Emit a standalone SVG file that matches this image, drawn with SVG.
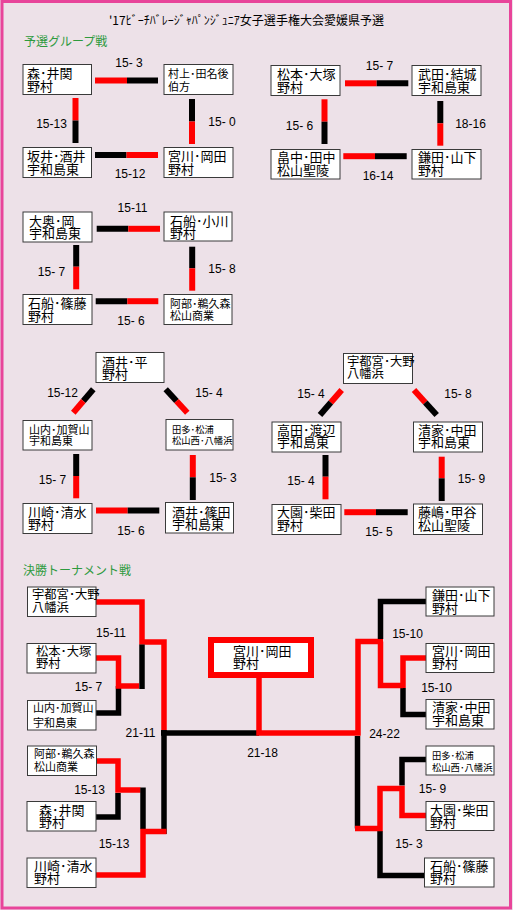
<svg xmlns="http://www.w3.org/2000/svg" width="513" height="910" viewBox="0 0 513 910">
<style>
.bx{fill:#fff;stroke:#3a3a3a;stroke-width:1}
.t{font-family:"Noto Sans CJK JP","Noto Sans CJK SC",sans-serif;font-size:13px;fill:#000}
.s{font-size:11px}
.m{font-size:12.3px}
.xs{font-size:9.3px}
.sc{font-family:"Liberation Sans",Arial,sans-serif;font-size:12px;fill:#000;text-anchor:middle}
.hd{font-family:"Noto Sans CJK JP","Noto Sans CJK SC",sans-serif;font-size:12px;fill:#2e9a3e}
.ttl{font-family:"Noto Sans CJK JP","Noto Sans CJK SC",sans-serif;font-size:12px;fill:#000}
.r{stroke:#ff0000;stroke-width:6;fill:none;stroke-linejoin:miter}
.k{stroke:#000;stroke-width:6;fill:none;stroke-linejoin:miter}
.tr{stroke-width:5.5}
</style>
<rect x="0" y="0" width="513" height="910" fill="#ede1e8"/>
<rect x="2" y="1.5" width="508.5" height="906.5" fill="none" stroke="#e8449a" stroke-width="3"/>
<text class="ttl" x="109" y="25" textLength="275" lengthAdjust="spacing">'17ﾋﾞｰﾁﾊﾞﾚｰｼﾞｬﾊﾟﾝｼﾞｭﾆｱ女子選手権大会愛媛県予選</text>
<text class="hd" x="24" y="46">予選グループ戦</text>
<text class="hd" x="23" y="575">決勝トーナメント戦</text>

<g id="connectors">
<line class="r" x1="95" y1="80.5" x2="127" y2="80.5"/><line class="k" x1="127" y1="80.5" x2="158" y2="80.5"/>
<line class="r" x1="75.5" y1="98" x2="75.5" y2="120.5"/><line class="k" x1="75.5" y1="120.5" x2="75.5" y2="143"/>
<line class="k" x1="192" y1="99" x2="192" y2="121.5"/><line class="r" x1="192" y1="121.5" x2="192" y2="144"/>
<line class="k" x1="95" y1="155" x2="126.5" y2="155"/><line class="r" x1="126.5" y1="155" x2="158" y2="155"/>
<line class="r" x1="345" y1="83.3" x2="376.7" y2="83.3"/><line class="k" x1="376.7" y1="83.3" x2="408.3" y2="83.3"/>
<line class="r" x1="324.5" y1="99.3" x2="324.5" y2="121.7"/><line class="k" x1="324.5" y1="121.7" x2="324.5" y2="144"/>
<line class="k" x1="440.3" y1="101" x2="440.3" y2="123.3"/><line class="r" x1="440.3" y1="123.3" x2="440.3" y2="145.7"/>
<line class="r" x1="343.3" y1="156.2" x2="375" y2="156.2"/><line class="k" x1="375" y1="156.2" x2="406.7" y2="156.2"/>
<line class="k" x1="96.7" y1="228.8" x2="128.3" y2="228.8"/><line class="r" x1="128.3" y1="228.8" x2="160" y2="228.8"/>
<line class="k" x1="76.2" y1="245" x2="76.2" y2="266.7"/><line class="r" x1="76.2" y1="266.7" x2="76.2" y2="289.3"/>
<line class="k" x1="192.2" y1="246.7" x2="192.2" y2="268.3"/><line class="r" x1="192.2" y1="268.3" x2="192.2" y2="290.7"/>
<line class="k" x1="95.7" y1="301.2" x2="127.3" y2="301.2"/><line class="r" x1="127.3" y1="301.2" x2="158.3" y2="301.2"/>
<line class="k" x1="93.3" y1="389.3" x2="83.3" y2="401"/><line class="r" x1="83.3" y1="401" x2="73.3" y2="412.7"/>
<line class="k" x1="165.7" y1="389.3" x2="176.5" y2="401"/><line class="r" x1="176.5" y1="401" x2="187.3" y2="412.7"/>
<line class="k" x1="76.2" y1="454" x2="76.2" y2="476"/><line class="r" x1="76.2" y1="476" x2="76.2" y2="498.3"/>
<line class="r" x1="192.8" y1="455" x2="192.8" y2="477.3"/><line class="k" x1="192.8" y1="477.3" x2="192.8" y2="500"/>
<line class="r" x1="96" y1="510.5" x2="127.7" y2="510.5"/><line class="k" x1="127.7" y1="510.5" x2="159.3" y2="510.5"/>
<line class="r" x1="341.7" y1="390" x2="330.8" y2="402.5"/><line class="k" x1="330.8" y1="402.5" x2="320" y2="415"/>
<line class="r" x1="414" y1="390" x2="425.3" y2="402.5"/><line class="k" x1="425.3" y1="402.5" x2="436.7" y2="415"/>
<line class="k" x1="325.5" y1="455" x2="325.5" y2="476.7"/><line class="r" x1="325.5" y1="476.7" x2="325.5" y2="499.3"/>
<line class="r" x1="441.7" y1="456.7" x2="441.7" y2="478.3"/><line class="k" x1="441.7" y1="478.3" x2="441.7" y2="501"/>
<line class="r" x1="344.3" y1="512.2" x2="376" y2="512.2"/><line class="k" x1="376" y1="512.2" x2="407.7" y2="512.2"/>
<path class="k tr" d="M96,713 H118.5 V686"/>
<path class="r tr" d="M96,602 H142 V642 H164 V733"/>
<path class="r tr" d="M96,658 H118.5 V686 H139"/>
<path class="k tr" d="M142,644.5 V689"/>
<path class="k tr" d="M96,817 H118 V793"/>
<path class="r tr" d="M97,761 H118 V790 H140.5"/>
<path class="k tr" d="M143,787.5 V829"/>
<path class="k tr" d="M161,733 H259"/>
<path class="k tr" d="M164,730 V834"/>
<path class="r tr" d="M96,875 H143 V831.5 H166.5"/>
<path class="r tr" d="M259,678 V733 H358 V641.5 H383"/>
<path class="k tr" d="M426,601.5 H380.5 V639"/>
<path class="k tr" d="M426,714.5 H403 V688"/>
<path class="r tr" d="M380.5,641.5 V685.5 H403"/>
<path class="r tr" d="M426,658 H403 V688"/>
<path class="k tr" d="M357.5,736 V828.5"/>
<path class="k tr" d="M426,759.5 H402 V785.5"/>
<path class="k tr" d="M380,831 V875.5 H425"/>
<path class="r tr" d="M355,828.5 H380 V788.5 H402 V815.5 H426"/>
</g>

<g id="scores" xml:space="preserve">
<text class="sc" x="129" y="67">15- 3</text>
<text class="sc" x="51.5" y="128">15-13</text>
<text class="sc" x="222" y="126">15- 0</text>
<text class="sc" x="130" y="178">15-12</text>
<text class="sc" x="379.5" y="69.5">15- 7</text>
<text class="sc" x="299.5" y="129.5">15- 6</text>
<text class="sc" x="470.5" y="127.5">18-16</text>
<text class="sc" x="378" y="179.5">16-14</text>
<text class="sc" x="132.5" y="211.5">15-11</text>
<text class="sc" x="51.5" y="275.5">15- 7</text>
<text class="sc" x="222" y="273">15- 8</text>
<text class="sc" x="131" y="325">15- 6</text>
<text class="sc" x="62.5" y="397">15-12</text>
<text class="sc" x="209" y="397">15- 4</text>
<text class="sc" x="52.5" y="483.5">15- 7</text>
<text class="sc" x="223" y="482">15- 3</text>
<text class="sc" x="131" y="534.5">15- 6</text>
<text class="sc" x="311" y="398">15- 4</text>
<text class="sc" x="458" y="398">15- 8</text>
<text class="sc" x="301" y="485">15- 4</text>
<text class="sc" x="471.5" y="482.5">15- 9</text>
<text class="sc" x="379" y="536">15- 5</text>
<text class="sc" x="111" y="636.5">15-11</text>
<text class="sc" x="88.5" y="690.5">15- 7</text>
<text class="sc" x="140.5" y="736.5">21-11</text>
<text class="sc" x="89.5" y="794">15-13</text>
<text class="sc" x="114" y="848">15-13</text>
<text class="sc" x="262.5" y="757">21-18</text>
<text class="sc" x="407.5" y="638">15-10</text>
<text class="sc" x="436.5" y="692">15-10</text>
<text class="sc" x="384.5" y="738">24-22</text>
<text class="sc" x="432.5" y="793">15- 9</text>
<text class="sc" x="409" y="848">15- 3</text>
</g>

<g id="g1-mori"><rect class="bx" x="23" y="64.5" width="68.5" height="30"/><text class="t" x="27" y="78">森･井関<tspan x="27" dy="13">野村</tspan></text></g>
<g id="g1-murakami"><rect class="bx" x="164" y="64.5" width="69" height="30"/><text class="t s" x="168" y="77.5">村上･田名後<tspan x="168" dy="13">伯方</tspan></text></g>
<g id="g1-sakai"><rect class="bx" x="23" y="147.5" width="68.5" height="30"/><text class="t" x="27" y="161">坂井･酒井<tspan x="27" dy="13">宇和島東</tspan></text></g>
<g id="g1-miyagawa"><rect class="bx" x="164" y="147.5" width="69" height="30"/><text class="t" x="168" y="161">宮川･岡田<tspan x="168" dy="13">野村</tspan></text></g>
<g id="g2-matsumoto"><rect class="bx" x="271" y="65.5" width="69" height="30"/><text class="t" x="277" y="79">松本･大塚<tspan x="277" dy="13">野村</tspan></text></g>
<g id="g2-takeda"><rect class="bx" x="412" y="65.5" width="69" height="30"/><text class="t" x="418" y="79">武田･結城<tspan x="418" dy="13">宇和島東</tspan></text></g>
<g id="g2-hatanaka"><rect class="bx" x="271" y="149.5" width="69" height="29.5"/><text class="t" x="277" y="161.5">畠中･田中<tspan x="277" dy="13.5">松山聖陵</tspan></text></g>
<g id="g2-kamada"><rect class="bx" x="412" y="149.5" width="69" height="29.5"/><text class="t" x="418" y="161.5">鎌田･山下<tspan x="418" dy="13.5">野村</tspan></text></g>
<g id="g3-ooku"><rect class="bx" x="23" y="212" width="69" height="30"/><text class="t" x="29" y="225.5">大奥･岡<tspan x="29" dy="12.5">宇和島東</tspan></text></g>
<g id="g3-ishifune-ogawa"><rect class="bx" x="164" y="212" width="68" height="29"/><text class="t" x="170" y="225.5">石船･小川<tspan x="170" dy="12">野村</tspan></text></g>
<g id="g3-ishifune-shinofuji"><rect class="bx" x="23" y="294.5" width="69" height="30"/><text class="t" x="28" y="308">石船･篠藤<tspan x="28" dy="12.5">野村</tspan></text></g>
<g id="g3-abe"><rect class="bx" x="164" y="294.5" width="68" height="30"/><text class="t s" x="170" y="307.5">阿部･鵜久森<tspan x="170" dy="12">松山商業</tspan></text></g>
<g id="g4-sakai-taira"><rect class="bx" x="96" y="352.5" width="68" height="30"/><text class="t" x="102" y="366.5">酒井･平<tspan x="102" dy="12">野村</tspan></text></g>
<g id="g4-yamauchi"><rect class="bx" x="23" y="420.5" width="69" height="29.5"/><text class="t s" x="29" y="433.5">山内･加賀山<tspan x="29" dy="11.5">宇和島東</tspan></text></g>
<g id="g4-tada"><rect class="bx" x="166" y="419.5" width="67" height="30.5"/><text class="t xs" x="172" y="432.5">田多･松浦<tspan x="172" dy="11.5">松山西･八幡浜</tspan></text></g>
<g id="g4-kawasaki"><rect class="bx" x="23" y="503.5" width="69" height="30"/><text class="t" x="28" y="517">川崎･清水<tspan x="28" dy="12">野村</tspan></text></g>
<g id="g4-sakai-shinoda"><rect class="bx" x="165.5" y="502.5" width="68" height="30.5"/><text class="t" x="172" y="517">酒井･篠田<tspan x="172" dy="12">宇和島東</tspan></text></g>
<g id="g5-utsunomiya"><rect class="bx" x="343.5" y="353.5" width="69" height="30"/><text class="t m" x="347" y="366">宇都宮･大野<tspan x="347" dy="12">八幡浜</tspan></text></g>
<g id="g5-takada"><rect class="bx" x="272" y="422" width="69" height="30"/><text class="t" x="277" y="434.5">高田･渡辺<tspan x="277" dy="12.5">宇和島東</tspan></text></g>
<g id="g5-seike"><rect class="bx" x="413.5" y="422" width="69" height="30"/><text class="t" x="418" y="434.5">清家･中田<tspan x="418" dy="12.5">宇和島東</tspan></text></g>
<g id="g5-oozono"><rect class="bx" x="272" y="504.5" width="69" height="30"/><text class="t" x="277" y="517">大園･柴田<tspan x="277" dy="12.5">野村</tspan></text></g>
<g id="g5-fujishima"><rect class="bx" x="413.5" y="504" width="69" height="30.5"/><text class="t" x="418" y="517">藤嶋･甲谷<tspan x="418" dy="12.5">松山聖陵</tspan></text></g>
<g id="t-utsunomiya"><rect class="bx" x="27.5" y="587" width="68.5" height="29.5"/><text class="t m" x="32" y="598.5">宇都宮･大野<tspan x="32" dy="13">八幡浜</tspan></text></g>
<g id="t-matsumoto"><rect class="bx" x="27" y="643.5" width="69" height="29.5"/><text class="t m" x="36" y="656">松本･大塚<tspan x="36" dy="12">野村</tspan></text></g>
<g id="t-yamauchi"><rect class="bx" x="27.5" y="700.5" width="68.5" height="29.5"/><text class="t s" x="33" y="712">山内･加賀山<tspan x="33" dy="14.5">宇和島東</tspan></text></g>
<g id="t-abe"><rect class="bx" x="27.5" y="746" width="69" height="29.5"/><text class="t s" x="34" y="758">阿部･鵜久森<tspan x="34" dy="12.5">松山商業</tspan></text></g>
<g id="t-mori"><rect class="bx" x="27" y="801.5" width="69" height="29.5"/><text class="t" x="39" y="814.5">森･井関<tspan x="39" dy="12">野村</tspan></text></g>
<g id="t-kawasaki"><rect class="bx" x="27" y="858" width="69" height="29.5"/><text class="t" x="34" y="871">川崎･清水<tspan x="34" dy="12">野村</tspan></text></g>
<g id="t-champion"><rect x="211" y="640" width="100" height="35" fill="#fff" stroke="#ff0000" stroke-width="6"/><text class="t" x="233" y="656">宮川･岡田<tspan x="233" dy="12">野村</tspan></text></g>
<g id="t-kamada"><rect class="bx" x="426" y="587" width="68" height="29"/><text class="t" x="432" y="599.5">鎌田･山下<tspan x="432" dy="13">野村</tspan></text></g>
<g id="t-miyagawa"><rect class="bx" x="426" y="643.5" width="68" height="29"/><text class="t" x="432" y="655.5">宮川･岡田<tspan x="432" dy="12.5">野村</tspan></text></g>
<g id="t-seike"><rect class="bx" x="426" y="699.5" width="68" height="29.5"/><text class="t" x="432" y="711.5">清家･中田<tspan x="432" dy="13.5">宇和島東</tspan></text></g>
<g id="t-tada"><rect class="bx" x="426" y="746" width="68" height="29"/><text class="t xs" x="432" y="758.5">田多･松浦<tspan x="432" dy="12.5">松山西･八幡浜</tspan></text></g>
<g id="t-oozono"><rect class="bx" x="426" y="801.5" width="68" height="29"/><text class="t" x="430" y="814.5">大園･柴田<tspan x="430" dy="12">野村</tspan></text></g>
<g id="t-ishifune"><rect class="bx" x="424.5" y="858" width="69.5" height="29"/><text class="t" x="430" y="871">石船･篠藤<tspan x="430" dy="12">野村</tspan></text></g>
</svg>
